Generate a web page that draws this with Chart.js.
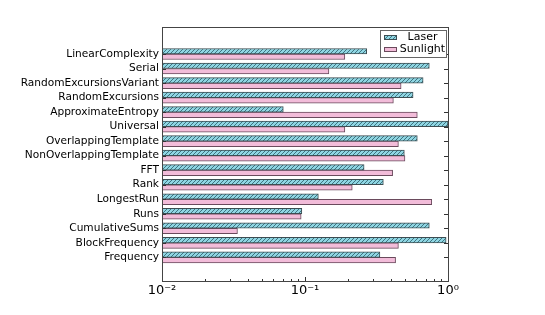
<!DOCTYPE html>
<html><head><meta charset="utf-8">
<script src="https://cdn.jsdelivr.net/npm/chart.js@4.4.0/dist/chart.umd.min.js"></script>
<style>html,body{margin:0;padding:0;background:#fff}#wrap{width:545px;height:315px;position:relative}</style>
</head><body><div id="wrap"><canvas id="c"></canvas></div>
<script>
const categories = ['LinearComplexity','Serial','RandomExcursionsVariant','RandomExcursions','ApproximateEntropy','Universal','OverlappingTemplate','NonOverlappingTemplate','FFT','Rank','LongestRun','Runs','CumulativeSums','BlockFrequency','Frequency'];
const laser    = [0.27, 0.74, 0.67, 0.57, 0.0705, 1.0, 0.61, 0.495, 0.259, 0.353, 0.124, 0.095, 0.74, 0.97, 0.334];
const sunlight = [0.19, 0.147, 0.47, 0.415, 0.61, 0.19, 0.45, 0.50, 0.41, 0.214, 0.77, 0.094, 0.0337, 0.45, 0.43];
const seriesNames = ['Laser', 'Sunlight'];
const xTicks = [0.01, 0.1, 1];
const xTickLabels = ['10\u207B\u00B2', '10\u207B\u00B9', '10\u2070'];

const FONT = '"DejaVu Sans", sans-serif';
const n = categories.length;

function hatchPattern() {
  const p = document.createElement('canvas');
  p.width = 4; p.height = 4;
  const g = p.getContext('2d');
  g.fillStyle = '#8fd6e3';
  g.fillRect(0, 0, 4, 4);
  g.fillStyle = '#3f7480';
  for (let i = 0; i < 4; i++) g.fillRect(i, 3 - i, 1, 1);
  return g.createPattern(p, 'repeat');
}
const laserFill = hatchPattern();
const sunFill = '#f2bcd9';

const toPts = arr => arr.map((v, i) => ({ x: v, y: n - 1 - i }));

const framePlugin = {
  id: 'frame',
  afterDraw(chart) {
    const { ctx, chartArea: a } = chart;
    const xs = chart.scales.x, ys = chart.scales.y;
    ctx.save();
    ctx.strokeStyle = '#333';
    ctx.lineWidth = 1;
    ctx.beginPath();
    ys.ticks.forEach(t => {
      const y = Math.round(ys.getPixelForValue(t.value)) + 0.5;
      ctx.moveTo(a.left, y); ctx.lineTo(a.left + 4, y);
      ctx.moveTo(a.right, y); ctx.lineTo(a.right - 4, y);
    });
    xTicks.forEach(v => {
      const x = Math.round(xs.getPixelForValue(v)) + 0.5;
      ctx.moveTo(x, a.bottom); ctx.lineTo(x, a.bottom - 4);
    });
    for (let d = 0; d < xTicks.length - 1; d++) {
      for (let k = 2; k <= 9; k++) {
        const x = Math.round(xs.getPixelForValue(xTicks[d] * k)) + 0.5;
        ctx.moveTo(x, a.bottom); ctx.lineTo(x, a.bottom - 2);
      }
    }
    ctx.stroke();
    ctx.strokeStyle = '#444';
    ctx.strokeRect(Math.round(a.left) + 0.5, Math.round(a.top) + 0.5, Math.round(a.right - a.left), Math.round(a.bottom - a.top));
    // legend
    const bx = Math.round(a.right) - 67.5, by = Math.round(a.top) + 3.5, bw = 66, bh = 27;
    ctx.fillStyle = '#fff';
    ctx.fillRect(bx, by, bw, bh);
    ctx.strokeStyle = '#666';
    ctx.strokeRect(bx, by, bw, bh);
    chart.data.datasets.forEach((d, i) => {
      const cy = by + 7 + i * 12;
      ctx.fillStyle = d.backgroundColor;
      ctx.fillRect(bx + 4, cy - 2, 12, 4);
      ctx.strokeStyle = d.borderColor;
      ctx.strokeRect(bx + 4, cy - 2, 12, 4);
      ctx.fillStyle = '#000';
      ctx.font = '11px ' + FONT;
      ctx.textAlign = 'center';
      ctx.textBaseline = 'middle';
      ctx.fillText(d.label, bx + 42, cy);
    });
    ctx.restore();
  }
};

new Chart(document.getElementById('c'), {
  type: 'bar',
  data: {
    datasets: [
      { label: seriesNames[0], data: toPts(laser), backgroundColor: laserFill, borderColor: '#3d4d52', borderWidth: 1, base: 0.01, barThickness: 5.5 },
      { label: seriesNames[1], data: toPts(sunlight), backgroundColor: sunFill, borderColor: '#6a4a5c', borderWidth: 1, base: 0.01, barThickness: 5.5 }
    ]
  },
  options: {
    indexAxis: 'y',
    responsive: true,
    maintainAspectRatio: false,
    animation: false,
    layout: { padding: { left: 0, right: 97, top: 27, bottom: 0 } },
    plugins: { legend: { display: false }, tooltip: { enabled: false } },
    scales: {
      x: {
        type: 'logarithmic',
        min: 0.01, max: 1,
        grid: { display: false, drawTicks: false, tickLength: 0 },
        border: { display: false },
        afterBuildTicks: ax => { ax.ticks = xTicks.map(v => ({ value: v })); },
        afterFit: ax => { ax.height = 34; },
        ticks: {
          color: '#000', font: { family: FONT, size: 13 }, padding: 2, maxRotation: 0,
          callback: (v, i) => xTickLabels[i]
        }
      },
      y: {
        type: 'linear',
        offset: false,
        min: -1.63, max: 15.86,
        grid: { display: false, drawTicks: false, tickLength: 0 },
        border: { display: false },
        afterBuildTicks: ax => { ax.ticks = categories.map((c, i) => ({ value: n - 1 - i })); },
        afterFit: ax => { ax.width = 162; },
        ticks: {
          color: '#000', font: { family: FONT, size: 10.6 }, padding: 3, autoSkip: false,
          callback: v => categories[n - 1 - v]
        }
      }
    }
  },
  plugins: [framePlugin]
});
</script>
</body></html>
